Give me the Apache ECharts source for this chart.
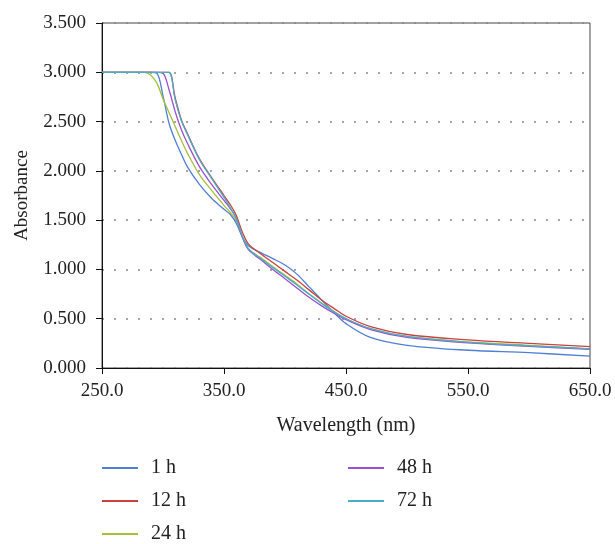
<!DOCTYPE html>
<html>
  <head>
    <meta charset="utf-8" />
    <title>Absorbance</title>
    <script src="https://cdn.jsdelivr.net/npm/echarts@6/dist/echarts.min.js"></script>
    <style>
      html, body { margin: 0; padding: 0; background: #fff; }
      #main { width: 615px; height: 544px; }
    </style>
  </head>
  <body>
    <div id="main"></div>
    <script type="text/javascript">
      // wavelength (nm)
      var wavelength = [250, 280, 285, 290, 295, 300, 305, 310, 315, 320, 330, 340, 350, 355, 360, 365, 370, 380, 390, 400, 410, 420, 430, 440, 450, 470, 500, 550, 600, 650];
      var names = ["1 h", "12 h", "24 h", "48 h", "72 h"];
      var colors = ["#4f7fd6", "#c9423f", "#a5bf3a", "#9b4fd1", "#4bacc6"];
      var abs1h  = [3.0, 3.0, 3.0, 3.0, 2.99, 2.76, 2.48, 2.31, 2.17, 2.04, 1.86, 1.72, 1.61, 1.56, 1.47, 1.33, 1.24, 1.17, 1.11, 1.045, 0.95, 0.82, 0.69, 0.565, 0.45, 0.31, 0.23, 0.18, 0.155, 0.12];
      var abs12h = [3.0, 3.0, 3.0, 3.0, 3.0, 3.0, 3.0, 2.74, 2.52, 2.38, 2.12, 1.93, 1.75, 1.66, 1.55, 1.38, 1.26, 1.16, 1.07, 0.98, 0.89, 0.79, 0.69, 0.605, 0.525, 0.42, 0.34, 0.285, 0.25, 0.216];
      var abs24h = [3.0, 3.0, 3.0, 2.97, 2.89, 2.73, 2.59, 2.45, 2.31, 2.18, 1.96, 1.8, 1.65, 1.58, 1.5, 1.33, 1.21, 1.12, 1.03, 0.94, 0.85, 0.75, 0.66, 0.575, 0.5, 0.4, 0.32, 0.265, 0.23, 0.195];
      var abs48h = [3.0, 3.0, 3.0, 3.0, 3.0, 2.99, 2.82, 2.6, 2.42, 2.28, 2.04, 1.86, 1.7, 1.62, 1.52, 1.33, 1.2, 1.1, 1.0, 0.905, 0.81, 0.715, 0.63, 0.555, 0.49, 0.39, 0.31, 0.255, 0.22, 0.19];
      var abs72h = [3.0, 3.0, 3.0, 3.0, 3.0, 3.0, 3.0, 2.72, 2.51, 2.37, 2.11, 1.92, 1.73, 1.63, 1.52, 1.34, 1.21, 1.11, 1.02, 0.93, 0.84, 0.745, 0.655, 0.57, 0.5, 0.4, 0.32, 0.26, 0.225, 0.195];
      var allData = [abs1h, abs12h, abs24h, abs48h, abs72h];
      // legend placement: [left, center y]
      var legendPos = [[102, 469], [102, 502], [102, 535], [348, 469], [348, 502]];

      var font = "Liberation Serif";
      var seriesList = [];
      for (var s = 0; s < names.length; s++) {
        var pts = [];
        for (var i = 0; i < wavelength.length; i++) {
          pts.push([wavelength[i], allData[s][i]]);
        }
        seriesList.push({
          name: names[s],
          type: "line",
          data: pts,
          smooth: 0.35,
          showSymbol: false,
          color: colors[s],
          lineStyle: { width: 1.3, color: colors[s] },
        });
      }

      var legends = [];
      for (var k = 0; k < names.length; k++) {
        legends.push({
          left: legendPos[k][0],
          top: legendPos[k][1] - 11,
          padding: 0,
          icon: "rect",
          itemWidth: 36,
          itemHeight: 2,
          data: [names[k]],
          textStyle: { fontFamily: font, fontSize: 20, color: "#222", padding: [0, 0, 0, 8] },
        });
      }

      var myChart = echarts.init(document.getElementById("main"));
      var option = {
        animation: false,
        color: colors,
        grid: {
          left: 102,
          right: 25,
          top: 23,
          bottom: 176,
          show: true,
          borderColor: "#444",
          borderWidth: 1,
        },
        legend: legends,
        xAxis: {
          type: "value",
          min: 250,
          max: 650,
          interval: 100,
          name: "Wavelength (nm)",
          nameLocation: "middle",
          nameGap: 48,
          nameTextStyle: { fontFamily: font, fontSize: 20, color: "#222" },
          axisLine: { lineStyle: { color: "#111", width: 1 } },
          axisTick: { show: true, length: 6, lineStyle: { color: "#111" } },
          axisLabel: {
            fontFamily: font,
            fontSize: 19,
            color: "#222",
            margin: 14,
            formatter: function (v) { return v.toFixed(1); },
          },
          splitLine: { show: false },
        },
        yAxis: {
          type: "value",
          min: 0,
          max: 3.5,
          interval: 0.5,
          name: "Absorbance",
          nameLocation: "middle",
          nameGap: 70,
          nameTextStyle: { fontFamily: font, fontSize: 19, color: "#222" },
          axisLine: { show: true, lineStyle: { color: "#111", width: 1 } },
          axisTick: { show: true, length: 6, lineStyle: { color: "#111" } },
          axisLabel: {
            fontFamily: font,
            fontSize: 19,
            color: "#222",
            margin: 16,
            formatter: function (v) { return v.toFixed(3); },
          },
          splitLine: {
            show: true,
            lineStyle: { color: "#888", type: [2, 10], width: 1.5 },
          },
        },
        series: seriesList,
      };
      option && myChart.setOption(option);
    </script>
  </body>
</html>
